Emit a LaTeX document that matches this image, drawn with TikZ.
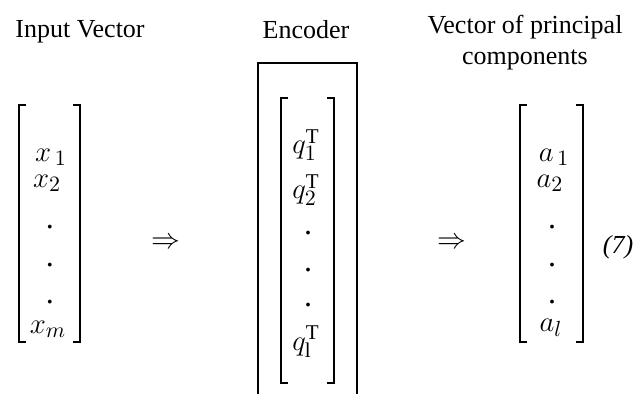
\documentclass[tikz,border=0pt]{standalone}
\usepackage{fontspec}
\setmainfont{Liberation Serif}
\begin{document}
\begin{tikzpicture}[x=0.5pt,y=-0.5pt,
  lbl/.style={font=\fontsize{13}{15.5}\selectfont, inner sep=0pt, align=center},
  ent/.style={font=\fontsize{15}{17}\selectfont, inner sep=0pt},
  dotn/.style={font=\fontsize{16}{18}\selectfont, inner sep=0pt},
  brk/.style={line width=1.1pt},
  box/.style={line width=0.6pt}]
\useasboundingbox (0,0) rectangle (644,394);
% labels
\node[lbl] (lin) at (80,32) {Input Vector};
\node[lbl] (lenc) at (306,30) {Encoder};
\node[lbl] (lout) at (525,43) {Vector of principal\\components};
% left vector
\draw[brk] (26,105) -- (19,105) -- (19,342) -- (26,342);
\draw[brk] (73,105) -- (80,105) -- (80,342) -- (73,342);
\node[ent] (x1) at (51,157) {$x_{\,1}$};
\node[ent] (x2) at (47,183) {$x_2$};
\node[dotn] (xd1) at (50,227) {.};
\node[dotn] (xd2) at (50,265) {.};
\node[dotn] (xd3) at (50,302) {.};
\node[ent] (xm) at (48,329) {$x_m$};
% arrow 1
\node[ent] (ar1) at (166,243) {$\Rightarrow$};
% encoder box
\draw[box] (258,394) -- (258,63) -- (357,63) -- (357,394);
\draw[brk] (288,98) -- (281,98) -- (281,383) -- (288,383);
\draw[brk] (327,98) -- (334,98) -- (334,383) -- (327,383);
\node[ent] (q1) at (306,145) {$q_1^{\mathrm{T}}$};
\node[ent] (q2) at (306,190) {$q_2^{\mathrm{T}}$};
\node[dotn] (qd1) at (308,233) {.};
\node[dotn] (qd2) at (308,270) {.};
\node[dotn] (qd3) at (308,305) {.};
\node[ent] (ql) at (306,342) {$q_{\mathrm{l}}^{\mathrm{T}}$};
% arrow 2
\node[ent] (ar2) at (452,243) {$\Rightarrow$};
% right vector
\draw[brk] (527,105) -- (520,105) -- (520,342) -- (527,342);
\draw[brk] (576,105) -- (583,105) -- (583,342) -- (576,342);
\node[ent] (a1) at (554,157) {$a_{\,1}$};
\node[ent] (a2) at (550,183) {$a_2$};
\node[dotn] (ad1) at (552,227) {.};
\node[dotn] (ad2) at (552,265) {.};
\node[dotn] (ad3) at (552,302) {.};
\node[ent] (al) at (551,328) {$a_l$};
\node[lbl, font=\fontsize{13}{15.5}\selectfont\itshape] (eq) at (618,247) {(7)};
\end{tikzpicture}
\end{document}
